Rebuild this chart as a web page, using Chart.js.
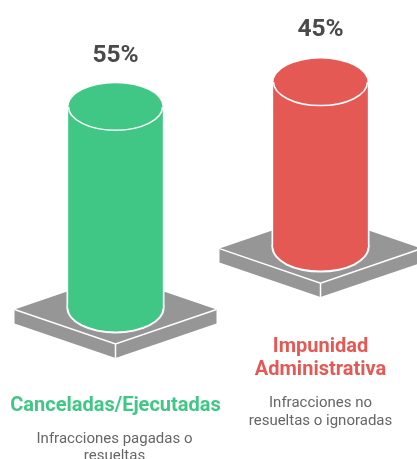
<!DOCTYPE html>
<html>
<head>
<meta charset="utf-8">
<script src="https://cdn.jsdelivr.net/npm/chart.js@4/dist/chart.umd.min.js"></script>
<style>
html, body { margin: 0; padding: 0; background: #fff; overflow: hidden; }
#wrap { width: 417px; height: 459px; }
</style>
</head>
<body>
<div id="wrap"><canvas id="myChart"></canvas></div>
<script>
// chart data
var categories = ['Canceladas/Ejecutadas', 'Impunidad Administrativa'];
var values = [55, 45];
var valueLabels = ['55%', '45%'];
var colors = ['#40c785', '#e55955'];
var titleLines = [['Canceladas/Ejecutadas'], ['Impunidad', 'Administrativa']];
var descLines = [['Infracciones pagadas o', 'resueltas'], ['Infracciones no', 'resueltas o ignoradas']];

// each column stands on its own slab, so each one gets its own axis
var axisIds = ['yGreen', 'yRed'];

var datasets = values.map(function (v, i) {
	return {
		label: categories[i],
		data: [{ x: i, y: v }],
		backgroundColor: colors[i],
		borderWidth: 0,
		barThickness: 94,
		grouped: false,
		yAxisID: axisIds[i]
	};
});

function slab(ctx, x, y) {
	var hw = 101, hh = 34.5, depth = 14;
	ctx.fillStyle = '#969696';
	ctx.beginPath();
	ctx.moveTo(x - hw, y);
	ctx.lineTo(x, y - hh);
	ctx.lineTo(x + hw, y);
	ctx.lineTo(x + hw, y + depth);
	ctx.lineTo(x, y + hh + depth);
	ctx.lineTo(x - hw, y + depth);
	ctx.closePath();
	ctx.fill();
	ctx.strokeStyle = '#fff';
	ctx.lineWidth = 1.5;
	ctx.beginPath();
	ctx.moveTo(x - hw, y);
	ctx.lineTo(x, y + hh);
	ctx.lineTo(x + hw, y);
	ctx.moveTo(x, y + hh);
	ctx.lineTo(x, y + hh + depth);
	ctx.stroke();
}

function textBlock(ctx, lines, x, y, step) {
	lines.forEach(function (line, n) {
		ctx.fillText(line, x, y + n * step);
	});
}

var cylinderPlugin = {
	id: 'cylinder',
	beforeDatasetsDraw: function (chart) {
		var ctx = chart.ctx;
		ctx.save();
		chart.data.datasets.forEach(function (ds, i) {
			var bar = chart.getDatasetMeta(i).data[0];
			slab(ctx, bar.x, bar.base + 1.5);
			// white halo round the column
			var r = bar.width / 2;
			ctx.fillStyle = '#fff';
			ctx.beginPath();
			ctx.ellipse(bar.x, bar.base, r + 2, 25.5, 0, 0, Math.PI * 2);
			ctx.fill();
			ctx.fillRect(bar.x - r - 2, bar.y, bar.width + 4, bar.base - bar.y);
		});
		ctx.restore();
	},
	afterDatasetsDraw: function (chart) {
		var ctx = chart.ctx;
		ctx.save();
		chart.data.datasets.forEach(function (ds, i) {
			var bar = chart.getDatasetMeta(i).data[0];
			var r = bar.width / 2;
			var red = i === 1;
			ctx.fillStyle = ds.backgroundColor;
			ctx.beginPath();
			ctx.ellipse(bar.x, bar.base, r, 23.5, 0, 0, Math.PI * 2);
			ctx.fill();
			ctx.beginPath();
			ctx.ellipse(bar.x, bar.y, r, 23.5, 0, 0, Math.PI * 2);
			ctx.fill();
			ctx.strokeStyle = '#fff';
			ctx.lineWidth = 1.5;
			ctx.beginPath();
			ctx.ellipse(bar.x, bar.y, r, 23.5, 0, 0, Math.PI);
			ctx.stroke();

			ctx.textAlign = 'center';
			ctx.textBaseline = 'alphabetic';
			ctx.fillStyle = '#4a4a4a';
			ctx.font = 'bold 24.5px Roboto';
			ctx.fillText(valueLabels[i], bar.x, bar.y - (red ? 46 : 44.5));

			var under = bar.base + (red ? 105 : 103);
			ctx.fillStyle = ds.backgroundColor;
			ctx.font = 'bold 20px Roboto';
			textBlock(ctx, titleLines[i], bar.x, under, 23);
			ctx.fillStyle = '#666';
			ctx.font = '15px Roboto';
			textBlock(ctx, descLines[i], bar.x - (red ? 0 : 1), under + (titleLines[i].length - 1) * 23 + 32, 17.5);
		});
		ctx.restore();
	}
};

new Chart(document.getElementById('myChart').getContext('2d'), {
	type: 'bar',
	data: { datasets: datasets },
	options: {
		responsive: true,
		maintainAspectRatio: false,
		animation: false,
		layout: { padding: 0 },
		plugins: { legend: { display: false }, tooltip: { enabled: false } },
		scales: {
			x: { type: 'linear', display: false, offset: false, min: -0.5634, max: 1.4707 },
			yGreen: { display: false, min: -41.26, max: 84.15 },
			yRed: { display: false, min: -57.8, max: 67.4 }
		}
	},
	plugins: [cylinderPlugin]
});
</script>
</body>
</html>
